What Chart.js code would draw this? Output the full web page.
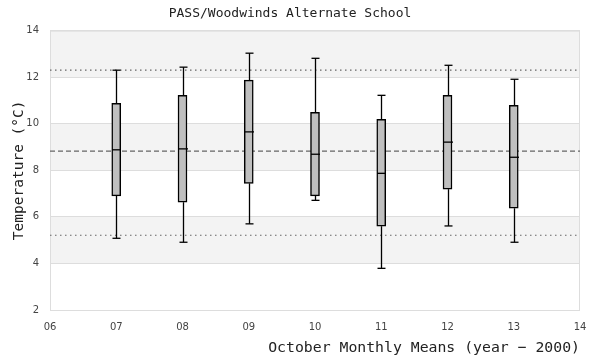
<!DOCTYPE html>
<html>
<head>
<meta charset="utf-8">
<script src="https://cdn.jsdelivr.net/npm/chart.js@4.4.1/dist/chart.umd.min.js"></script>
<style>
  html, body { margin: 0; padding: 0; background: #fff; }
  #wrap { width: 600px; height: 360px; }
</style>
</head>
<body>
<div id="wrap"><canvas id="myChart" width="600" height="360"></canvas></div>
<script>
// October monthly means, year - 2000
const years = [7, 8, 9, 10, 11, 12, 13];
const mins = [5.08, 4.91, 5.70, 6.71, 3.79, 5.61, 4.91];
const q1s = [6.90, 6.63, 7.44, 6.90, 5.60, 7.19, 6.37];
const medians = [8.88, 8.92, 9.65, 8.69, 7.87, 9.21, 8.56];
const q3s = [10.88, 11.22, 11.87, 10.49, 10.19, 11.22, 10.79];
const maxs = [12.30, 12.43, 13.03, 12.81, 11.22, 12.51, 11.91];

// reference lines
const upperRef = 12.3;
const meanRef = 8.82;
const lowerRef = 5.21;

// shaded y bands
const bands = [[4, 6], [8, 10], [12, 14]];

const xMin = 6, xMax = 14;
const mono = "'DejaVu Sans Mono', monospace";

const refLine = (v, dash) => ({
    type: 'line',
    data: [{x: xMin, y: v}, {x: xMax, y: v}],
    borderColor: '#666',
    borderWidth: 1.2,
    borderDash: dash,
    pointRadius: 0,
    order: 2
});

const bandsPlugin = {
    id: 'bands',
    beforeDraw(chart) {
        const {ctx, chartArea: a, scales: {y}} = chart;
        ctx.save();
        ctx.fillStyle = '#f3f3f3';
        bands.forEach(b => {
            const top = y.getPixelForValue(b[1]);
            const bot = y.getPixelForValue(b[0]);
            ctx.fillRect(a.left, top, a.right - a.left, bot - top);
        });
        ctx.strokeStyle = '#ddd';
        ctx.lineWidth = 1;
        ctx.strokeRect(a.left + 0.5, a.top + 0.5, a.right - a.left - 1, a.bottom - a.top);
        ctx.restore();
    }
};

const whiskerPlugin = {
    id: 'whiskers',
    afterDatasetsDraw(chart) {
        const {ctx, scales: {x, y}} = chart;
        ctx.save();
        ctx.strokeStyle = '#000';
        ctx.lineWidth = 1.3;
        years.forEach((yr, i) => {
            const px = Math.round(x.getPixelForValue(yr)) + 0.5;
            const seg = (x1, y1, x2, y2) => {
                ctx.beginPath();
                ctx.moveTo(x1, y1);
                ctx.lineTo(x2, y2);
                ctx.stroke();
            };
            seg(px, y.getPixelForValue(q3s[i]), px, y.getPixelForValue(maxs[i]));
            seg(px, y.getPixelForValue(q1s[i]), px, y.getPixelForValue(mins[i]));
            seg(px - 4, y.getPixelForValue(maxs[i]), px + 4, y.getPixelForValue(maxs[i]));
            seg(px - 4, y.getPixelForValue(mins[i]), px + 4, y.getPixelForValue(mins[i]));
            seg(px - 4.5, y.getPixelForValue(medians[i]), px + 4.5, y.getPixelForValue(medians[i]));
        });
        ctx.restore();
    }
};

new Chart(document.getElementById('myChart'), {
    type: 'bar',
    data: {
        datasets: [
            {
                type: 'bar',
                data: years.map((yr, i) => ({x: yr, y: [q1s[i], q3s[i]]})),
                backgroundColor: '#bfbfbf',
                borderColor: '#000',
                borderWidth: 1.5,
                borderSkipped: false,
                barThickness: 9,
                order: 0
            },
            refLine(upperRef, [1.5, 3.5]),
            refLine(meanRef, [5, 3]),
            refLine(lowerRef, [1.5, 3.5])
        ]
    },
    options: {
        responsive: false,
        animation: false,
        layout: {padding: {right: 20}},
        plugins: {
            legend: {display: false},
            tooltip: {enabled: false},
            title: {
                display: true,
                text: 'PASS/Woodwinds Alternate School',
                color: '#222',
                font: {family: mono, size: 13, weight: 'normal', lineHeight: 1.2},
                padding: {top: 6, bottom: 9}
            }
        },
        scales: {
            x: {
                type: 'linear',
                min: xMin,
                max: xMax,
                offset: false,
                grid: {display: false, drawTicks: false},
                border: {display: false},
                ticks: {
                    stepSize: 1,
                    padding: 11,
                    color: '#444',
                    font: {family: "'DejaVu Sans', sans-serif", size: 10},
                    callback: v => String(v).padStart(2, '0')
                },
                title: {
                    display: true,
                    text: 'October Monthly Means (year \u2212 2000)',
                    align: 'end',
                    color: '#222',
                    font: {family: mono, size: 14.8, lineHeight: 1.2},
                    padding: {top: 0, bottom: 3.3}
                },
                afterFit: s => { s.height = 50; }
            },
            y: {
                min: 2,
                max: 14,
                grid: {color: '#ddd', drawTicks: false},
                border: {display: false},
                ticks: {
                    stepSize: 2,
                    padding: 11,
                    color: '#444',
                    font: {family: "'DejaVu Sans', sans-serif", size: 10}
                },
                title: {
                    display: true,
                    text: 'Temperature (\u00b0C)',
                    color: '#222',
                    font: {family: mono, size: 14.5, lineHeight: 1.2},
                    padding: {top: 10.8, bottom: 0}
                },
                afterFit: s => { s.width = 50; }
            }
        }
    },
    plugins: [bandsPlugin, whiskerPlugin]
});
</script>
</body>
</html>
